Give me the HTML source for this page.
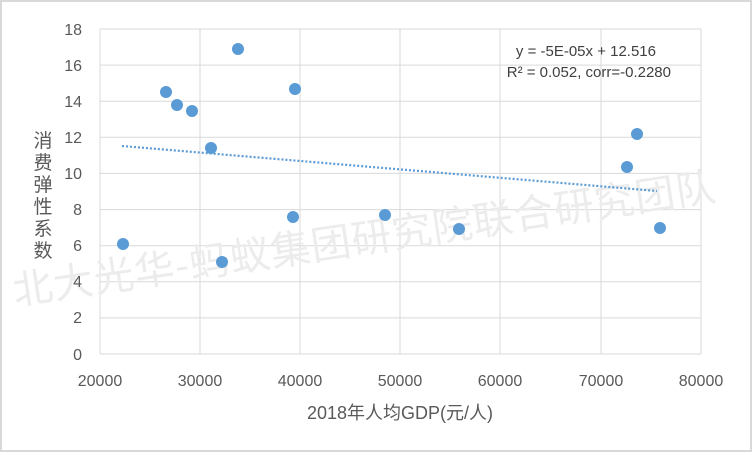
<!DOCTYPE html>
<html><head><meta charset="utf-8"><style>
html,body{margin:0;padding:0;background:#fff}
svg{display:block}
</style></head><body>
<svg width="752" height="452" xmlns="http://www.w3.org/2000/svg" font-family="Liberation Sans, 'Noto Sans CJK SC', sans-serif">
<rect x="1" y="1" width="750" height="450" fill="#fff" stroke="#d9d9d9" stroke-width="2"/>
<g stroke="#d9d9d9" stroke-width="1">
<line x1="100" y1="29" x2="701" y2="29"/>
<line x1="100" y1="65.1" x2="701" y2="65.1"/>
<line x1="100" y1="101.2" x2="701" y2="101.2"/>
<line x1="100" y1="137.3" x2="701" y2="137.3"/>
<line x1="100" y1="173.4" x2="701" y2="173.4"/>
<line x1="100" y1="209.6" x2="701" y2="209.6"/>
<line x1="100" y1="245.7" x2="701" y2="245.7"/>
<line x1="100" y1="281.8" x2="701" y2="281.8"/>
<line x1="100" y1="317.9" x2="701" y2="317.9"/>
<line x1="100" y1="354" x2="701" y2="354"/>
<line x1="100" y1="29" x2="100" y2="354"/>
<line x1="200" y1="29" x2="200" y2="354"/>
<line x1="300" y1="29" x2="300" y2="354"/>
<line x1="400" y1="29" x2="400" y2="354"/>
<line x1="500" y1="29" x2="500" y2="354"/>
<line x1="601" y1="29" x2="601" y2="354"/>
<line x1="701" y1="29" x2="701" y2="354"/>
</g>
<text x="15" y="305" transform="rotate(-8.5 15 305)" font-size="40" fill="#ececec" font-family="'Noto Sans CJK SC', sans-serif" textLength="710">北大光华-蚂蚁集团研究院联合研究团队</text>
<g font-size="16" fill="#595959" text-anchor="end">
<text x="82" y="35">18</text><text x="82" y="71">16</text><text x="82" y="107">14</text>
<text x="82" y="143">12</text><text x="82" y="179">10</text><text x="82" y="215">8</text>
<text x="82" y="251">6</text><text x="82" y="287">4</text><text x="82" y="323">2</text><text x="82" y="360">0</text>
</g>
<g font-size="16" fill="#595959" text-anchor="middle">
<text x="100" y="386">20000</text><text x="200" y="386">30000</text><text x="300" y="386">40000</text>
<text x="400" y="386">50000</text><text x="500" y="386">60000</text><text x="601" y="386">70000</text><text x="701" y="386">80000</text>
<text x="400" y="419" font-size="18" font-family="Liberation Sans, 'Noto Sans CJK SC', sans-serif">2018年人均GDP(元/人)</text>
</g>
<g font-size="19" fill="#595959" text-anchor="middle" font-family="'Noto Sans CJK SC', sans-serif">
<text x="43" y="147">消</text><text x="43" y="169">费</text><text x="43" y="191">弹</text>
<text x="43" y="213">性</text><text x="43" y="235">系</text><text x="43" y="257">数</text>
</g>
<line x1="122" y1="146" x2="657" y2="191" stroke="#5b9bd5" stroke-width="2.2" stroke-dasharray="2,2"/>
<g fill="#5b9bd5">
<circle cx="123" cy="244" r="6"/><circle cx="166" cy="92" r="6"/><circle cx="177" cy="105" r="6"/>
<circle cx="192" cy="111" r="6"/><circle cx="211" cy="148" r="6"/><circle cx="222" cy="262" r="6"/>
<circle cx="238" cy="49" r="6"/><circle cx="293" cy="217" r="6"/><circle cx="295" cy="89" r="6"/>
<circle cx="385" cy="215" r="6"/><circle cx="459" cy="229" r="6"/><circle cx="627" cy="167" r="6"/>
<circle cx="637" cy="134" r="6"/><circle cx="660" cy="228" r="6"/>
</g>
<g font-size="15" fill="#404040" text-anchor="end">
<text x="656" y="56">y = -5E-05x + 12.516</text>
<text x="671" y="77">R² = 0.052, corr=-0.2280</text>
</g>
</svg>
</body></html>
